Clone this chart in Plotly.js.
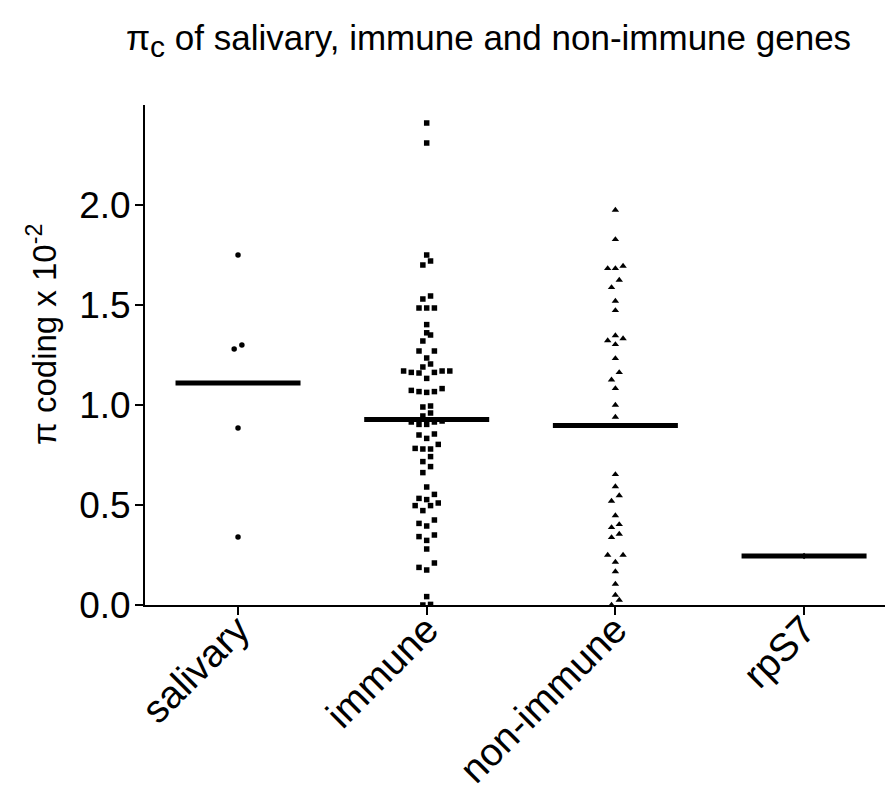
<!DOCTYPE html>
<html>
<head>
<meta charset="utf-8">
<script src="https://cdn.plot.ly/plotly-3.0.1.min.js"></script>
<style>html,body{margin:0;padding:0;background:#fff;}#chart{width:885px;height:794px;}</style>
</head>
<body>
<div id="chart"></div>
<script>
// ---- data ----
const categories = ['salivary', 'immune', 'non-immune', 'rpS7'];
const salivary = [1.75, 1.30, 1.28, 0.885, 0.34];
const immune = [2.41, 2.31, 1.75, 1.72, 1.70, 1.545, 1.53, 1.485, 1.485, 1.485, 1.402, 1.361, 1.35, 1.32,
  1.27, 1.27, 1.235, 1.205, 1.19, 1.17, 1.17, 1.17, 1.163, 1.163, 1.16, 1.133,
  1.082, 1.073, 1.067, 1.067, 1.063, 0.995, 0.99, 0.96, 0.945,
  0.92, 0.915, 0.915, 0.903, 0.903, 0.855, 0.85, 0.833, 0.803, 0.783, 0.78, 0.78,
  0.742, 0.717, 0.692, 0.662, 0.59, 0.553, 0.533, 0.527, 0.51, 0.497, 0.497, 0.472,
  0.425, 0.408, 0.395, 0.35, 0.342, 0.323, 0.28, 0.21, 0.188, 0.175, 0.042, 0.003, 0.0];
const nonImmune = [1.975, 1.828, 1.695, 1.683, 1.683, 1.625, 1.588, 1.52, 1.473, 1.347, 1.332, 1.322, 1.303,
  1.233, 1.163, 1.126, 1.083, 1.0, 0.94, 0.653, 0.592, 0.547, 0.52, 0.447, 0.403, 0.388,
  0.355, 0.338, 0.25, 0.25, 0.215, 0.167, 0.105, 0.05, 0.025, 0.0];
const rpS7 = [0.245];
const means = [1.11, 0.928, 0.897, 0.245];
const yTickVals = [0, 0.5, 1.0, 1.5, 2.0];
const yTickText = ['0.0', '0.5', '1.0', '1.5', '2.0'];
const yTitle = 'π coding x 10<sup>-2</sup>';
const chartTitle = 'π<sub><span style="font-size:30px">c</span></sub> of salivary, immune and non-immune genes';

// ---- geometry ----
const W = 885, H = 794;
const margin = {l: 145, r: 0, t: 105, b: 189, pad: 0};
const xRange = [-0.493, 3.429];
const yRange = [0, 2.5];
const plotW = W - margin.l - margin.r, plotH = H - margin.t - margin.b;
const pxPerX = plotW / (xRange[1] - xRange[0]);
const pxPerY = plotH / (yRange[1] - yRange[0]);
const markerPx = 8;             // vertical bin height for the column scatter
const stepPx = 7.7;             // horizontal spacing between neighbouring points
const binW = markerPx / pxPerY;
const stepX = stepPx / pxPerX;
const halfLine = 62.5 / pxPerX; // half width of mean bars

// column-scatter layout (Prism style): bin by value, spread rows around the centre
function swarm(vals, center) {
  const idx = vals.map((v, i) => i).sort((a, b) => vals[a] - vals[b]);
  const xs = new Array(vals.length);
  let i = 0;
  while (i < idx.length) {
    const start = vals[idx[i]];
    const group = [];
    while (i < idx.length && vals[idx[i]] < start + binW - 1e-9) { group.push(idx[i]); i++; }
    const n = group.length;
    group.forEach((g, k) => {
      let pos;
      if (n % 2 === 1) { const m = Math.ceil(k / 2); pos = k === 0 ? 0 : (k % 2 === 1 ? -m : m); }
      else { const m = Math.floor(k / 2) + 0.5; pos = k % 2 === 0 ? -m : m; }
      xs[g] = center + pos * stepX;
    });
  }
  return xs;
}

const groups = [salivary, immune, nonImmune, rpS7];
const symbols = ['circle', 'square', 'triangle-up', 'diamond'];
const sizes = [5.5, 5.5, 6.5, 5];
const traces = groups.map((vals, gi) => ({
  type: 'scatter', mode: 'markers',
  x: swarm(vals, gi), y: vals,
  marker: {symbol: symbols[gi], size: sizes[gi], color: '#000', line: {width: 0}},
  hoverinfo: 'y', showlegend: false
}));

const mx = [], my = [];
means.forEach((m, i) => { mx.push(i - halfLine, i + halfLine, null); my.push(m, m, null); });
traces.push({type: 'scatter', mode: 'lines', x: mx, y: my,
  line: {color: '#000', width: 5}, hoverinfo: 'skip', showlegend: false});

const FONT = 'Liberation Sans, Arial, Helvetica, sans-serif';
const layout = {
  width: W, height: H, margin: margin,
  paper_bgcolor: '#fff', plot_bgcolor: '#fff',
  font: {family: FONT, color: '#000'},
  title: {
    text: chartTitle,
    font: {family: FONT, size: 35, color: '#000'},
    xref: 'container', x: 0.552, xanchor: 'center',
    yref: 'container', y: 0.953, yanchor: 'middle'
  },
  xaxis: {
    range: xRange, tickmode: 'array', tickvals: categories.map((c, i) => i), ticktext: categories,
    tickangle: -45, tickfont: {family: FONT, size: 39, color: '#000'}, ticklabelstandoff: -24,
    showline: true, linecolor: '#000', linewidth: 2,
    ticks: 'outside', ticklen: 8, tickwidth: 2, tickcolor: '#000',
    showgrid: false, zeroline: false, fixedrange: true
  },
  yaxis: {
    range: yRange, tickmode: 'array', tickvals: yTickVals, ticktext: yTickText,
    tickfont: {family: FONT, size: 37, color: '#000'}, ticklabelstandoff: -3,
    showline: true, linecolor: '#000', linewidth: 2,
    ticks: 'outside', ticklen: 8, tickwidth: 2, tickcolor: '#000',
    showgrid: false, zeroline: false, fixedrange: true
  },
  annotations: [{
    text: yTitle, textangle: -90, showarrow: false,
    xref: 'paper', yref: 'paper',
    x: (42 - margin.l) / plotW, y: (margin.t + plotH - 335) / plotH,
    xanchor: 'center', yanchor: 'middle',
    font: {family: FONT, size: 33, color: '#000'}
  }]
};

Plotly.newPlot('chart', traces, layout, {displayModeBar: false, staticPlot: true});
</script>
</body>
</html>
